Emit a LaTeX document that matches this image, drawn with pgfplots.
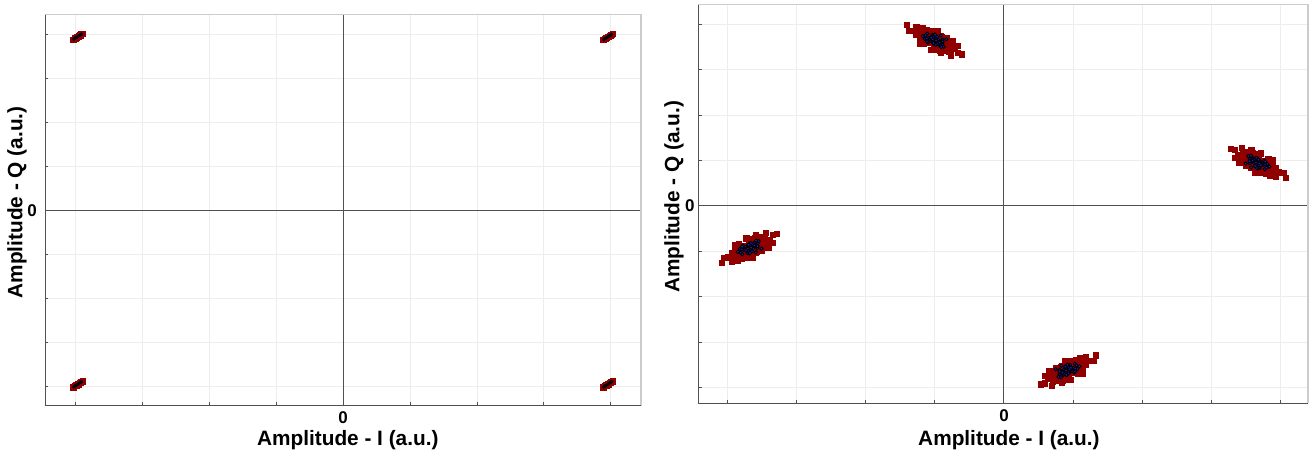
\documentclass[border=0pt]{standalone}
\usepackage{fontspec}
\setmainfont{Liberation Sans}
\usepackage{pgfplots}
\pgfplotsset{compat=1.18}

\definecolor{ptred}{RGB}{145,0,0}
\definecolor{ptblue}{RGB}{35,35,190}
\definecolor{axdark}{RGB}{80,80,80}

\pgfplotsset{
  constel/.style={
    scale only axis,
    anchor=south west,
    clip=false,
    tick pos=left,
    tick align=inside,
    major tick length=1.6pt,
    tick style={axdark, line width=0.5pt},
    xtick={-1,-0.75,-0.5,-0.25,0.25,0.5,0.75,1},
    ytick={-1,-0.75,-0.5,-0.25,0.25,0.5,0.75,1},
    xticklabels={}, yticklabels={},
    extra x ticks={0}, extra y ticks={0},
    extra x tick labels={0}, extra y tick labels={0},
    extra tick style={grid=major, major grid style={axdark, line width=0.5pt}},
    grid=major,
    major grid style={gray!14, line width=0.5pt},
    axis line style={draw=none},
    tick label style={font=\fontsize{8.5}{10}\selectfont\bfseries},
    xticklabel style={inner sep=0pt, anchor=north, yshift=-2.8pt},
    yticklabel style={inner sep=0pt, anchor=east},
    label style={font=\fontsize{10.4}{12}\selectfont\bfseries},
    xlabel={Amplitude - I (a.u.)},
    ylabel={Amplitude - Q (a.u.)},
    xlabel style={anchor=center},
    ylabel style={anchor=center},
  },
  rx/.style={only marks, mark=square*, mark size=1.3pt,
    mark options={fill=ptred, draw=ptred, line width=0.15pt}},
  bx/.style={only marks, mark=*, mark size=0.85pt,
    mark options={fill=ptblue, draw=none}},
}

\newcommand{\frameit}{%
  \draw[gray!40, line width=0.8pt] (rel axis cs:0,1) -- (rel axis cs:1,1) -- (rel axis cs:1,0);
  \draw[axdark, line width=0.6pt] (rel axis cs:0,1) -- (rel axis cs:0,0) -- (rel axis cs:1,0);
}

\begin{document}
\begin{tikzpicture}
\path[use as bounding box] (0,0) rectangle (656.5pt,229.5pt);

% Back-to-back: nearly ideal QPSK constellation
\begin{axis}[constel,
  at={(22.65pt,26.65pt)}, width=297.85pt, height=195.5pt,
  xmin=-1.111, xmax=1.112, ymin=-1.110, ymax=1.114,
  xlabel style={at={(axis description cs:0.5078,-0.0877)}},
  ylabel style={at={(axis description cs:-0.0477,0.52)}},
  yticklabel style={xshift=-4pt},
]
\addplot[rx, mark size=1.3pt] coordinates {
(-1.008,0.973) (-1.005,0.974) (-1.002,0.980) (-0.999,0.980) (-0.996,0.985) (-0.993,0.986) (-0.990,0.991) (-0.987,0.992) (-0.984,0.997) (-0.981,0.998) (-0.978,1.003) (-0.975,1.004) (-0.972,1.008) (-0.991,0.991) (-0.988,0.989)
(0.970,0.971) (0.973,0.972) (0.976,0.978) (0.979,0.978) (0.982,0.983) (0.985,0.984) (0.988,0.989) (0.991,0.990) (0.994,0.995) (0.997,0.996) (1.000,1.001) (1.003,1.002) (1.006,1.006) (0.987,0.989) (0.990,0.987)
(-1.008,-1.005) (-1.005,-1.004) (-1.002,-0.998) (-0.999,-0.998) (-0.996,-0.993) (-0.993,-0.992) (-0.990,-0.987) (-0.987,-0.986) (-0.984,-0.981) (-0.981,-0.980) (-0.978,-0.975) (-0.975,-0.974) (-0.972,-0.970) (-0.991,-0.987) (-0.988,-0.989)
(0.970,-1.005) (0.973,-1.004) (0.976,-0.998) (0.979,-0.998) (0.982,-0.993) (0.985,-0.992) (0.988,-0.987) (0.991,-0.986) (0.994,-0.981) (0.997,-0.980) (1.000,-0.975) (1.003,-0.974) (1.006,-0.970) (0.987,-0.987) (0.990,-0.989)
};
\addplot[bx, mark size=0.6pt] coordinates {
(-1.005,0.974) (-1.002,0.980) (-0.999,0.980) (-0.996,0.985) (-0.993,0.986) (-0.990,0.991) (-0.987,0.992) (-0.984,0.997) (-0.981,0.998) (-0.978,1.003) (-0.975,1.004)
(0.973,0.972) (0.976,0.978) (0.979,0.978) (0.982,0.983) (0.985,0.984) (0.988,0.989) (0.991,0.990) (0.994,0.995) (0.997,0.996) (1.000,1.001) (1.003,1.002)
(-1.005,-1.004) (-1.002,-0.998) (-0.999,-0.998) (-0.996,-0.993) (-0.993,-0.992) (-0.990,-0.987) (-0.987,-0.986) (-0.984,-0.981) (-0.981,-0.980) (-0.978,-0.975) (-0.975,-0.974)
(0.973,-1.004) (0.976,-0.998) (0.979,-0.998) (0.982,-0.993) (0.985,-0.992) (0.988,-0.987) (0.991,-0.986) (0.994,-0.981) (0.997,-0.980) (1.000,-0.975) (1.003,-0.974)
};
\frameit
\end{axis}

% After transmission: rotated, noisy constellation
\begin{axis}[constel,
  at={(349.15pt,27.85pt)}, width=304.85pt, height=199.3pt,
  xmin=-1.104, xmax=1.098, ymin=-1.086, ymax=1.108,
  xlabel style={at={(axis description cs:0.5095,-0.092)}},
  ylabel style={at={(axis description cs:-0.040,0.518)}},
  yticklabel style={xshift=-1.65pt},
]
% received symbols, first burst
\addplot[rx] coordinates {
(-0.238,0.917) (-0.293,0.935) (-0.231,0.873) (-0.259,0.942) (-0.203,0.874) (-0.259,0.902) (-0.223,0.926) (-0.309,0.963) (-0.218,0.876) (-0.283,0.903)
(-0.251,0.914) (-0.179,0.872) (-0.277,0.948) (-0.249,0.868) (-0.306,0.932) (-0.203,0.899) (-0.248,0.951) (-0.222,0.890) (-0.328,0.965) (-0.233,0.906)
(-0.273,0.922) (-0.198,0.851) (-0.280,0.964) (-0.250,0.891) (-0.168,0.842) (-0.259,0.927) (-0.224,0.911) (-0.297,0.948) (-0.207,0.928) (-0.289,0.893)
(-0.242,0.932) (-0.312,0.980) (-0.198,0.878) (-0.274,0.904) (-0.243,0.899) (-0.283,0.940) (-0.168,0.883) (-0.344,0.967) (-0.235,0.888) (-0.255,0.929)
(-0.220,0.855) (-0.295,0.980) (-0.223,0.901) (-0.265,0.920) (-0.154,0.836) (-0.351,0.996) (-0.263,0.860) (-0.239,0.966) (-0.209,0.866) (-0.304,0.911)
(-0.225,0.932) (-0.286,0.920) (-0.185,0.880) (-0.310,0.945) (-0.244,0.911) (-0.260,0.964) (-0.228,0.844) (-0.317,0.989) (-0.227,0.874) (-0.271,0.916)
(0.903,0.234) (0.958,0.216) (0.896,0.278) (0.924,0.209) (0.868,0.277) (0.924,0.249) (0.888,0.225) (0.974,0.188) (0.883,0.275) (0.948,0.248)
(0.916,0.237) (0.844,0.279) (0.942,0.203) (0.914,0.283) (0.971,0.219) (0.868,0.252) (0.913,0.200) (0.887,0.261) (0.993,0.186) (0.898,0.245)
(0.938,0.229) (0.863,0.300) (0.945,0.187) (0.915,0.260) (0.833,0.309) (0.924,0.224) (0.889,0.240) (0.962,0.203) (0.872,0.223) (0.954,0.258)
(0.907,0.219) (0.977,0.171) (0.863,0.273) (0.939,0.247) (0.908,0.252) (0.948,0.211) (0.833,0.268) (1.009,0.184) (0.900,0.263) (0.920,0.222)
(0.885,0.296) (0.960,0.171) (0.888,0.250) (0.930,0.231) (0.819,0.315) (1.016,0.155) (0.928,0.291) (0.904,0.185) (0.874,0.285) (0.969,0.240)
(0.890,0.219) (0.951,0.231) (0.850,0.271) (0.975,0.206) (0.909,0.240) (0.925,0.187) (0.893,0.307) (0.982,0.162) (0.892,0.277) (0.936,0.235)
(-0.906,-0.234) (-0.961,-0.252) (-0.899,-0.190) (-0.927,-0.259) (-0.871,-0.191) (-0.927,-0.219) (-0.891,-0.243) (-0.977,-0.280) (-0.886,-0.193) (-0.951,-0.220)
(-0.919,-0.231) (-0.847,-0.189) (-0.945,-0.265) (-0.917,-0.185) (-0.974,-0.249) (-0.871,-0.216) (-0.916,-0.268) (-0.890,-0.207) (-0.996,-0.282) (-0.901,-0.223)
(-0.941,-0.239) (-0.866,-0.168) (-0.948,-0.281) (-0.918,-0.208) (-0.836,-0.159) (-0.927,-0.244) (-0.892,-0.228) (-0.965,-0.265) (-0.875,-0.245) (-0.957,-0.210)
(-0.910,-0.249) (-0.980,-0.297) (-0.866,-0.195) (-0.942,-0.221) (-0.911,-0.216) (-0.951,-0.257) (-0.836,-0.200) (-1.012,-0.284) (-0.903,-0.205) (-0.923,-0.246)
(-0.888,-0.172) (-0.963,-0.297) (-0.891,-0.218) (-0.933,-0.237) (-0.822,-0.153) (-1.019,-0.313) (-0.931,-0.177) (-0.907,-0.283) (-0.877,-0.183) (-0.972,-0.228)
(-0.893,-0.249) (-0.954,-0.237) (-0.853,-0.197) (-0.978,-0.262) (-0.912,-0.228) (-0.928,-0.281) (-0.896,-0.161) (-0.985,-0.306) (-0.895,-0.191) (-0.939,-0.233)
(0.217,-0.900) (0.272,-0.882) (0.210,-0.944) (0.238,-0.875) (0.182,-0.943) (0.238,-0.915) (0.202,-0.891) (0.288,-0.854) (0.197,-0.941) (0.262,-0.914)
(0.230,-0.903) (0.158,-0.945) (0.256,-0.869) (0.228,-0.949) (0.285,-0.885) (0.182,-0.918) (0.227,-0.866) (0.201,-0.927) (0.307,-0.852) (0.212,-0.911)
(0.252,-0.895) (0.177,-0.966) (0.259,-0.853) (0.229,-0.926) (0.147,-0.975) (0.238,-0.890) (0.203,-0.906) (0.276,-0.869) (0.186,-0.889) (0.268,-0.924)
(0.221,-0.885) (0.291,-0.837) (0.177,-0.939) (0.253,-0.913) (0.222,-0.918) (0.262,-0.877) (0.147,-0.934) (0.323,-0.850) (0.214,-0.929) (0.234,-0.888)
(0.199,-0.962) (0.274,-0.837) (0.202,-0.916) (0.244,-0.897) (0.133,-0.981) (0.330,-0.821) (0.242,-0.957) (0.218,-0.851) (0.188,-0.951) (0.283,-0.906)
(0.204,-0.885) (0.265,-0.897) (0.164,-0.937) (0.289,-0.872) (0.223,-0.906) (0.239,-0.853) (0.207,-0.973) (0.296,-0.828) (0.206,-0.943) (0.250,-0.901)
};
% received symbols, second burst
\addplot[rx] coordinates {
(-0.249,0.890) (-0.279,0.951) (-0.239,0.869) (-0.248,0.966) (-0.219,0.862) (-0.254,0.914) (-0.239,0.892) (-0.292,0.969) (-0.233,0.858) (-0.271,0.925)
(-0.255,0.902) (-0.184,0.910) (-0.278,0.921) (-0.246,0.887) (-0.305,0.896) (-0.208,0.918) (-0.257,0.918) (-0.222,0.915) (-0.317,0.943) (-0.228,0.938)
(-0.275,0.900) (-0.206,0.874) (-0.284,0.922) (-0.245,0.912) (-0.193,0.830) (-0.251,0.944) (-0.233,0.900) (-0.279,0.971) (-0.222,0.905) (-0.278,0.907)
(-0.254,0.896) (-0.295,0.983) (-0.217,0.859) (-0.263,0.926) (-0.249,0.890) (-0.268,0.965) (-0.191,0.869) (-0.322,0.966) (-0.248,0.861) (-0.249,0.942)
(0.914,0.261) (0.944,0.200) (0.904,0.282) (0.913,0.185) (0.884,0.289) (0.919,0.237) (0.904,0.259) (0.957,0.182) (0.898,0.293) (0.936,0.226)
(0.920,0.249) (0.849,0.241) (0.943,0.230) (0.911,0.264) (0.970,0.255) (0.873,0.233) (0.922,0.233) (0.887,0.236) (0.982,0.208) (0.893,0.213)
(0.940,0.251) (0.871,0.277) (0.949,0.229) (0.910,0.239) (0.858,0.321) (0.916,0.207) (0.898,0.251) (0.944,0.180) (0.887,0.246) (0.943,0.244)
(0.919,0.255) (0.960,0.168) (0.882,0.292) (0.928,0.225) (0.914,0.261) (0.933,0.186) (0.856,0.282) (0.987,0.185) (0.913,0.290) (0.914,0.209)
(-0.917,-0.207) (-0.947,-0.268) (-0.907,-0.186) (-0.916,-0.283) (-0.887,-0.179) (-0.922,-0.231) (-0.907,-0.209) (-0.960,-0.286) (-0.901,-0.175) (-0.939,-0.242)
(-0.923,-0.219) (-0.852,-0.227) (-0.946,-0.238) (-0.914,-0.204) (-0.973,-0.213) (-0.876,-0.235) (-0.925,-0.235) (-0.890,-0.232) (-0.985,-0.260) (-0.896,-0.255)
(-0.943,-0.217) (-0.874,-0.191) (-0.952,-0.239) (-0.913,-0.229) (-0.861,-0.147) (-0.919,-0.261) (-0.901,-0.217) (-0.947,-0.288) (-0.890,-0.222) (-0.946,-0.224)
(-0.922,-0.213) (-0.963,-0.300) (-0.885,-0.176) (-0.931,-0.243) (-0.917,-0.207) (-0.936,-0.282) (-0.859,-0.186) (-0.990,-0.283) (-0.916,-0.178) (-0.917,-0.259)
(0.228,-0.927) (0.258,-0.866) (0.218,-0.948) (0.227,-0.851) (0.198,-0.955) (0.233,-0.903) (0.218,-0.925) (0.271,-0.848) (0.212,-0.959) (0.250,-0.892)
(0.234,-0.915) (0.163,-0.907) (0.257,-0.896) (0.225,-0.930) (0.284,-0.921) (0.187,-0.899) (0.236,-0.899) (0.201,-0.902) (0.296,-0.874) (0.207,-0.879)
(0.254,-0.917) (0.185,-0.943) (0.263,-0.895) (0.224,-0.905) (0.172,-0.987) (0.230,-0.873) (0.212,-0.917) (0.258,-0.846) (0.201,-0.912) (0.257,-0.910)
(0.233,-0.921) (0.274,-0.834) (0.196,-0.958) (0.242,-0.891) (0.228,-0.927) (0.247,-0.852) (0.170,-0.948) (0.301,-0.851) (0.227,-0.956) (0.228,-0.875)
};
% low-noise reference symbols
\addplot[bx] coordinates {
(-0.238,0.917) (-0.293,0.935) (-0.259,0.942) (-0.259,0.902) (-0.218,0.876) (-0.251,0.914) (-0.277,0.948) (-0.222,0.890) (-0.233,0.906) (-0.273,0.922) (-0.250,0.891) (-0.259,0.927)
(-0.224,0.911) (-0.242,0.932) (-0.243,0.899) (-0.283,0.940) (-0.235,0.888) (-0.255,0.929) (-0.223,0.901) (-0.265,0.920) (-0.286,0.920) (-0.244,0.911) (-0.227,0.874) (-0.271,0.916)
(-0.249,0.890) (-0.254,0.914) (-0.239,0.892) (-0.271,0.925) (-0.255,0.902) (-0.278,0.921) (-0.246,0.887) (-0.208,0.918) (-0.257,0.918) (-0.222,0.915) (-0.228,0.938)
(-0.275,0.900) (-0.245,0.912) (-0.251,0.944) (-0.233,0.900) (-0.222,0.905) (-0.278,0.907) (-0.254,0.896) (-0.263,0.926) (-0.249,0.942)
(0.903,0.234) (0.958,0.216) (0.924,0.209) (0.924,0.249) (0.883,0.275) (0.916,0.237) (0.942,0.203) (0.887,0.261) (0.898,0.245) (0.938,0.229) (0.915,0.260) (0.924,0.224)
(0.889,0.240) (0.907,0.219) (0.908,0.252) (0.948,0.211) (0.900,0.263) (0.920,0.222) (0.888,0.250) (0.930,0.231) (0.951,0.231) (0.909,0.240) (0.892,0.277) (0.936,0.235)
(0.914,0.261) (0.919,0.237) (0.904,0.259) (0.936,0.226) (0.920,0.249) (0.943,0.230) (0.911,0.264) (0.873,0.233) (0.922,0.233) (0.887,0.236) (0.893,0.213)
(0.940,0.251) (0.910,0.239) (0.916,0.207) (0.898,0.251) (0.887,0.246) (0.943,0.244) (0.919,0.255) (0.928,0.225) (0.914,0.209)
(-0.906,-0.234) (-0.961,-0.252) (-0.927,-0.259) (-0.927,-0.219) (-0.886,-0.193) (-0.919,-0.231) (-0.945,-0.265) (-0.890,-0.207) (-0.901,-0.223) (-0.941,-0.239) (-0.918,-0.208) (-0.927,-0.244)
(-0.892,-0.228) (-0.910,-0.249) (-0.911,-0.216) (-0.951,-0.257) (-0.903,-0.205) (-0.923,-0.246) (-0.891,-0.218) (-0.933,-0.237) (-0.954,-0.237) (-0.912,-0.228) (-0.895,-0.191) (-0.939,-0.233)
(-0.917,-0.207) (-0.922,-0.231) (-0.907,-0.209) (-0.939,-0.242) (-0.923,-0.219) (-0.946,-0.238) (-0.914,-0.204) (-0.876,-0.235) (-0.925,-0.235) (-0.890,-0.232) (-0.896,-0.255)
(-0.943,-0.217) (-0.913,-0.229) (-0.919,-0.261) (-0.901,-0.217) (-0.890,-0.222) (-0.946,-0.224) (-0.922,-0.213) (-0.931,-0.243) (-0.917,-0.259)
(0.217,-0.900) (0.272,-0.882) (0.238,-0.875) (0.238,-0.915) (0.197,-0.941) (0.230,-0.903) (0.256,-0.869) (0.201,-0.927) (0.212,-0.911) (0.252,-0.895) (0.229,-0.926) (0.238,-0.890)
(0.203,-0.906) (0.221,-0.885) (0.222,-0.918) (0.262,-0.877) (0.214,-0.929) (0.234,-0.888) (0.202,-0.916) (0.244,-0.897) (0.265,-0.897) (0.223,-0.906) (0.206,-0.943) (0.250,-0.901)
(0.228,-0.927) (0.233,-0.903) (0.218,-0.925) (0.250,-0.892) (0.234,-0.915) (0.257,-0.896) (0.225,-0.930) (0.187,-0.899) (0.236,-0.899) (0.201,-0.902) (0.207,-0.879)
(0.254,-0.917) (0.224,-0.905) (0.230,-0.873) (0.212,-0.917) (0.201,-0.912) (0.257,-0.910) (0.233,-0.921) (0.242,-0.891) (0.228,-0.875)
};
\frameit
\end{axis}
\end{tikzpicture}
\end{document}
